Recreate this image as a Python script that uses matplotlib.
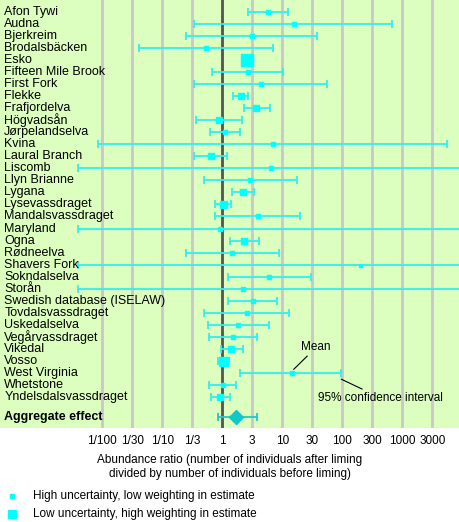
import matplotlib
matplotlib.use("Agg")
import matplotlib.pyplot as plt
from matplotlib.lines import Line2D

plt.rcParams['font.family'] = ['Liberation Sans', 'DejaVu Sans']

sites = ["Afon Tywi","Audna","Bjerkreim","Brodalsbäcken","Esko","Fifteen Mile Brook","First Fork",
         "Flekke","Frafjordelva","Högvadsån","Jørpelandselva","Kvina","Laural Branch","Liscomb",
         "Llyn Brianne","Lygana","Lysevassdraget","Mandalsvassdraget","Maryland","Ogna","Rødneelva",
         "Shavers Fork","Sokndalselva","Storån","Swedish database (ISELAW)","Tovdalsvassdraget",
         "Uskedalselva","Vegårvassdraget","Vikedal","Vosso","West Virginia","Whetstone","Yndelsdalsvassdraget"]
# log10 of abundance ratio
mean = [0.767,1.195,0.49,-0.277,0.41,0.423,0.64,0.307,0.562,-0.06,0.04,0.85,-0.188,0.807,
        0.462,0.345,0.012,0.59,-0.033,0.362,0.167,2.295,0.783,0.35,0.507,0.41,
        0.267,0.178,0.15,0.017,1.157,0.012,-0.033]
low = [0.433,-0.477,-0.61,-1.39,None,-0.177,-0.477,0.173,0.357,-0.438,-0.2,-2.07,-0.477,-2.4,
       -0.3,0.157,-0.122,-0.122,-2.4,0.128,-0.61,-2.4,0.09,-2.4,0.09,-0.305,
       -0.243,-0.217,-0.022,-0.067,0.295,-0.217,-0.188]
high = [1.095,2.83,1.58,0.845,None,1.017,1.745,0.433,0.795,0.333,0.295,3.75,0.073,5.0,
        1.24,0.523,0.14,1.3,5.0,0.607,0.945,5.0,1.483,5.0,0.912,1.107,
        0.773,0.573,0.345,0.107,1.983,0.233,0.128]
marker_px = [5,5,4,5,12,5,4,6,6,6,5,4,6,4,5,6,7,4,5,6,5,3,5,4,5,5,5,5,6,9,5,5,6]
agg_mean, agg_low, agg_high = 0.228, -0.067, 0.578
tick_vals = [-2,-1.5,-1,-0.5,0,0.5,1,1.5,2,2.5,3,3.5]
tick_labels = ["1/100","1/30","1/10","1/3","1","3","10","30","100","300","1000","3000"]

fig = plt.figure(figsize=(4.6,5.22), dpi=100)
ax = fig.add_axes([0,1-428/522,1,428/522])
ax.set_facecolor('#dcffc0')
for s in ax.spines.values():
    s.set_visible(False)
ax.set_xlim(-3.7,3.96)
n = len(sites)
ax.set_ylim(n+1.55, -0.96)
for t in tick_vals:
    ax.axvline(t, color='#c8c8c8', lw=2, zorder=1)
ax.axvline(0, color='#555555', lw=2, zorder=2)
c = '#00ffff'
for i in range(n):
    if low[i] is not None:
        ax.errorbar(mean[i], i, xerr=[[mean[i]-low[i]],[high[i]-mean[i]]], fmt='none',
                    ecolor='#30f0f0', elinewidth=1.3, capsize=3, capthick=1.3, zorder=3)
    ax.plot(mean[i], i, 's', color=c, ms=marker_px[i]*0.72, zorder=4)
    ax.text(-3.63, i, sites[i], va='center', ha='left', fontsize=9)
ya = n + 0.65
ax.errorbar(agg_mean, ya, xerr=[[agg_mean-agg_low],[agg_high-agg_mean]], fmt='none',
            ecolor='#20c8c8', elinewidth=1.3, capsize=3, capthick=1.3, zorder=3)
ax.plot(agg_mean, ya, 'D', color='#10c8c8', ms=7, zorder=4)
ax.text(-3.63, ya, "Aggregate effect", va='center', ha='left', fontsize=9, fontweight='bold')

# annotations
wv = sites.index("West Virginia")
ax.annotate("Mean", xy=(mean[wv], wv-0.15), xytext=(1.32, wv-1.9), fontsize=8.5,
            arrowprops=dict(arrowstyle='-', color='black', lw=0.8, shrinkA=0, shrinkB=2))
ax.annotate("95% confidence interval", xy=(high[wv], wv+0.5), xytext=(1.6, wv+2.3), fontsize=8.5,
            arrowprops=dict(arrowstyle='-', color='black', lw=0.8, shrinkA=0, shrinkB=0))

ax.set_xticks(tick_vals)
ax.set_xticklabels(tick_labels, fontsize=8.5)
ax.tick_params(axis='x', length=0, pad=5)
ax.set_yticks([])
ax.set_xlabel("Abundance ratio (number of individuals after liming\ndivided by number of individuals before liming)",
              fontsize=8.5, labelpad=5)

fig.lines.append(Line2D([12/460],[1-496/522], marker='s', ms=2.5, color=c, transform=fig.transFigure))
fig.lines.append(Line2D([12/460],[1-514/522], marker='s', ms=6, color=c, transform=fig.transFigure))
fig.text(33/460, 1-496/522, "High uncertainty, low weighting in estimate", fontsize=8.5, va='center')
fig.text(33/460, 1-514/522, "Low uncertainty, high weighting in estimate", fontsize=8.5, va='center')

fig.savefig("out.png", dpi=100)
